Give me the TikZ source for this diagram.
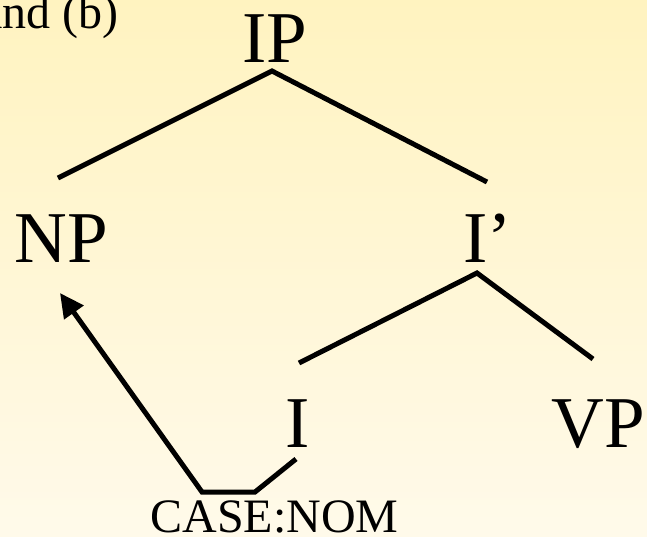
\documentclass[tikz,border=0pt]{standalone}
\usepackage{fontspec}
\setmainfont{Liberation Serif}
\usepackage{tikz}
\usetikzlibrary{arrows.meta}

\definecolor{slidetop}{RGB}{255,243,192}
\definecolor{slidebot}{RGB}{255,250,234}

\begin{document}
\begin{tikzpicture}[x=1pt, y=-1pt,
	cat/.style={anchor=base, inner sep=0pt, font=\fontsize{73}{80}\selectfont},
	small/.style={anchor=base, inner sep=0pt, font=\fontsize{48}{52}\selectfont},
	branch/.style={line width=5pt},
	move/.style={line width=5pt, -{Triangle[length=24pt, width=23pt]}}]
\shade[top color=slidetop, bottom color=slidebot] (0,0) rectangle (647,536);
\useasboundingbox (0,0) rectangle (647,536);
\node[small, anchor=base east] (note) at (119,28) {and (b)};

\node[cat] (IP) at (275,62) {IP};
\node[cat] (NP) at (61,262) {NP};
\node[cat] (Ibar) at (487.5,262) {I’};
\node[cat] (I) at (298,447) {I};
\node[cat] (VP) at (598.5,447) {VP};
\node[small] (case) at (274.5,532) {CASE:NOM};

% branch ends
\coordinate (IPfoot) at (272,71);
\coordinate (NPtop) at (58,178);
\coordinate (Ibartop) at (487,182);
\coordinate (Ibarfoot) at (477,273);
\coordinate (Itop) at (299,363);
\coordinate (VPtop) at (593,359);
\coordinate (Ifoot) at (296,459);
\coordinate (caseR) at (255,492);
\coordinate (caseL) at (202,492);
\coordinate (NPfoot) at (60,293);

\draw[branch] (NPtop) -- (IPfoot) -- (Ibartop);
\draw[branch] (Itop) -- (Ibarfoot) -- (VPtop);
\draw[move] (Ifoot) -- (caseR) -- (caseL) -- (NPfoot);
\end{tikzpicture}
\end{document}
